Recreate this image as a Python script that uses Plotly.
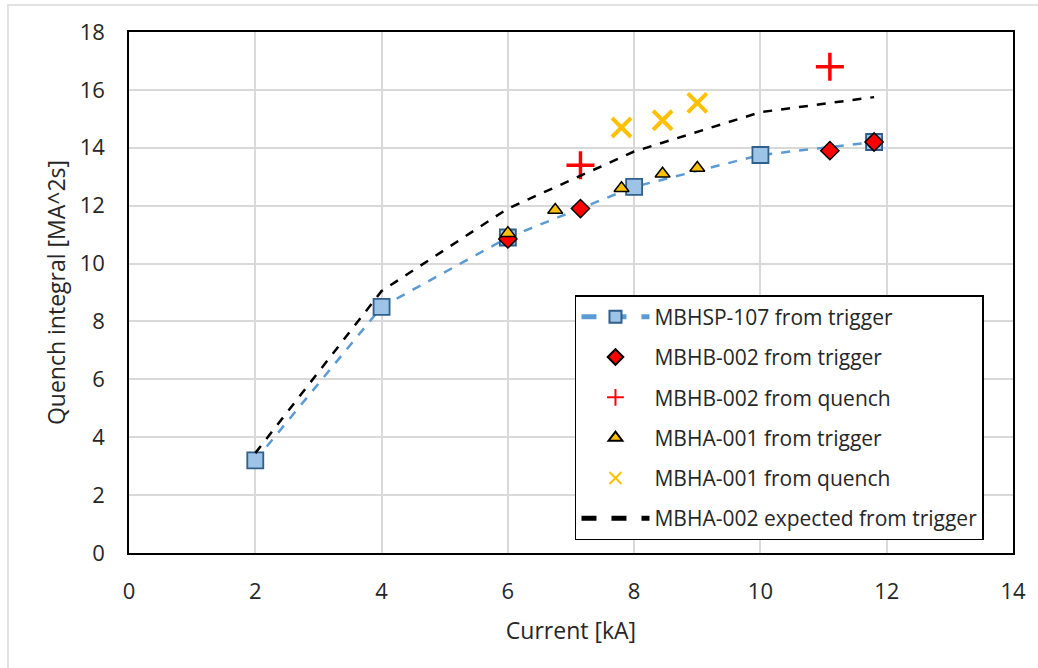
import plotly.graph_objects as go

# Data
hsp107_x = [2, 4, 6, 8, 10, 11.8]
hsp107_y = [3.2, 8.5, 10.9, 12.65, 13.75, 14.2]

hb002_trig_x = [6, 7.15, 11.1, 11.8]
hb002_trig_y = [10.85, 11.9, 13.9, 14.2]

hb002_q_x = [7.15, 11.1]
hb002_q_y = [13.4, 16.8]

ha001_trig_x = [6, 6.75, 7.8, 8.45, 9.0]
ha001_trig_y = [11.05, 11.85, 12.6, 13.1, 13.3]

ha001_q_x = [7.8, 8.45, 9.0]
ha001_q_y = [14.7, 14.95, 15.55]

ha002_x = [2, 4, 6, 8, 10, 11.8]
ha002_y = [3.45, 9.05, 11.9, 13.87, 15.23, 15.75]

FONT = "Open Sans"
TXT = "#262626"

fig = go.Figure()

fig.add_trace(go.Scatter(
    x=hsp107_x, y=hsp107_y, mode="lines+markers", name="MBHSP-107 from trigger",
    line=dict(color="#5B9BD5", width=2.5, dash="dash"),
    marker=dict(symbol="square", size=16, color="#9DC3E6", line=dict(color="#2F5F8A", width=1.8)),
    legendgroup="a"))

fig.add_trace(go.Scatter(
    x=hb002_trig_x, y=hb002_trig_y, mode="markers", name="MBHB-002 from trigger",
    marker=dict(symbol="diamond", size=14, color="#FF0000", line=dict(color="#000000", width=1.5)),
    legendgroup="b"))

fig.add_trace(go.Scatter(
    x=hb002_q_x, y=hb002_q_y, mode="markers", name="MBHB-002 from quench",
    marker=dict(symbol="cross-thin", size=20, color="#FF0000", line=dict(color="#FF0000", width=3.5)),
    legendgroup="c"))

fig.add_trace(go.Scatter(
    x=ha001_trig_x, y=ha001_trig_y, mode="markers", name="MBHA-001 from trigger",
    marker=dict(symbol="triangle-up", size=13, color="#FFC000", line=dict(color="#000000", width=1.5)),
    legendgroup="d"))

fig.add_trace(go.Scatter(
    x=ha001_q_x, y=ha001_q_y, mode="markers", name="MBHA-001 from quench",
    marker=dict(symbol="x-thin", size=19, color="#FFC000", line=dict(color="#FFC000", width=4)),
    legendgroup="e"))

fig.add_trace(go.Scatter(
    x=ha002_x, y=ha002_y, mode="lines", name="MBHA-002 expected from trigger",
    line=dict(color="#000000", width=2.5, dash="dash"),
    legendgroup="f"))

# light grey chart-area border (Excel style)
fig.add_shape(type="rect", xref="paper", yref="paper",
              x0=-0.1369, x1=1.04, y0=-0.25, y1=1.0518,
              line=dict(color="#D9D9D9", width=1.5), layer="below")

fig.update_layout(
    width=1038, height=668,
    margin=dict(l=129, r=25, t=32, b=115),
    paper_bgcolor="white", plot_bgcolor="white",
    font=dict(family=FONT, size=21, color=TXT),
    showlegend=True,
    legend=dict(x=0.5045, y=0.495, xanchor="left", yanchor="top",
                bgcolor="white", bordercolor="#000000", borderwidth=1.5,
                font=dict(family=FONT, size=21, color=TXT),
                traceorder="grouped", tracegroupgap=10,
                itemwidth=68, itemsizing="constant"),
    xaxis=dict(range=[0, 14], dtick=2, tick0=0,
               showgrid=True, gridcolor="#D9D9D9", gridwidth=1.5,
               zeroline=False, showline=True, linecolor="#000000", linewidth=1.5, mirror=True,
               ticks="", ticklabelstandoff=18, tickfont=dict(family=FONT, size=22, color=TXT),
               title=dict(text="Current [kA]", font=dict(family=FONT, size=23, color=TXT), standoff=19)),
    yaxis=dict(range=[0, 18], dtick=2, tick0=0,
               showgrid=True, gridcolor="#D9D9D9", gridwidth=1.5,
               zeroline=False, showline=True, linecolor="#000000", linewidth=1.5, mirror=True,
               ticks="", ticklabelstandoff=18, tickfont=dict(family=FONT, size=22, color=TXT),
               title=dict(text="Quench integral [MA^2s]", font=dict(family=FONT, size=23, color=TXT), standoff=8)),
)

fig.write_html("out.html")
